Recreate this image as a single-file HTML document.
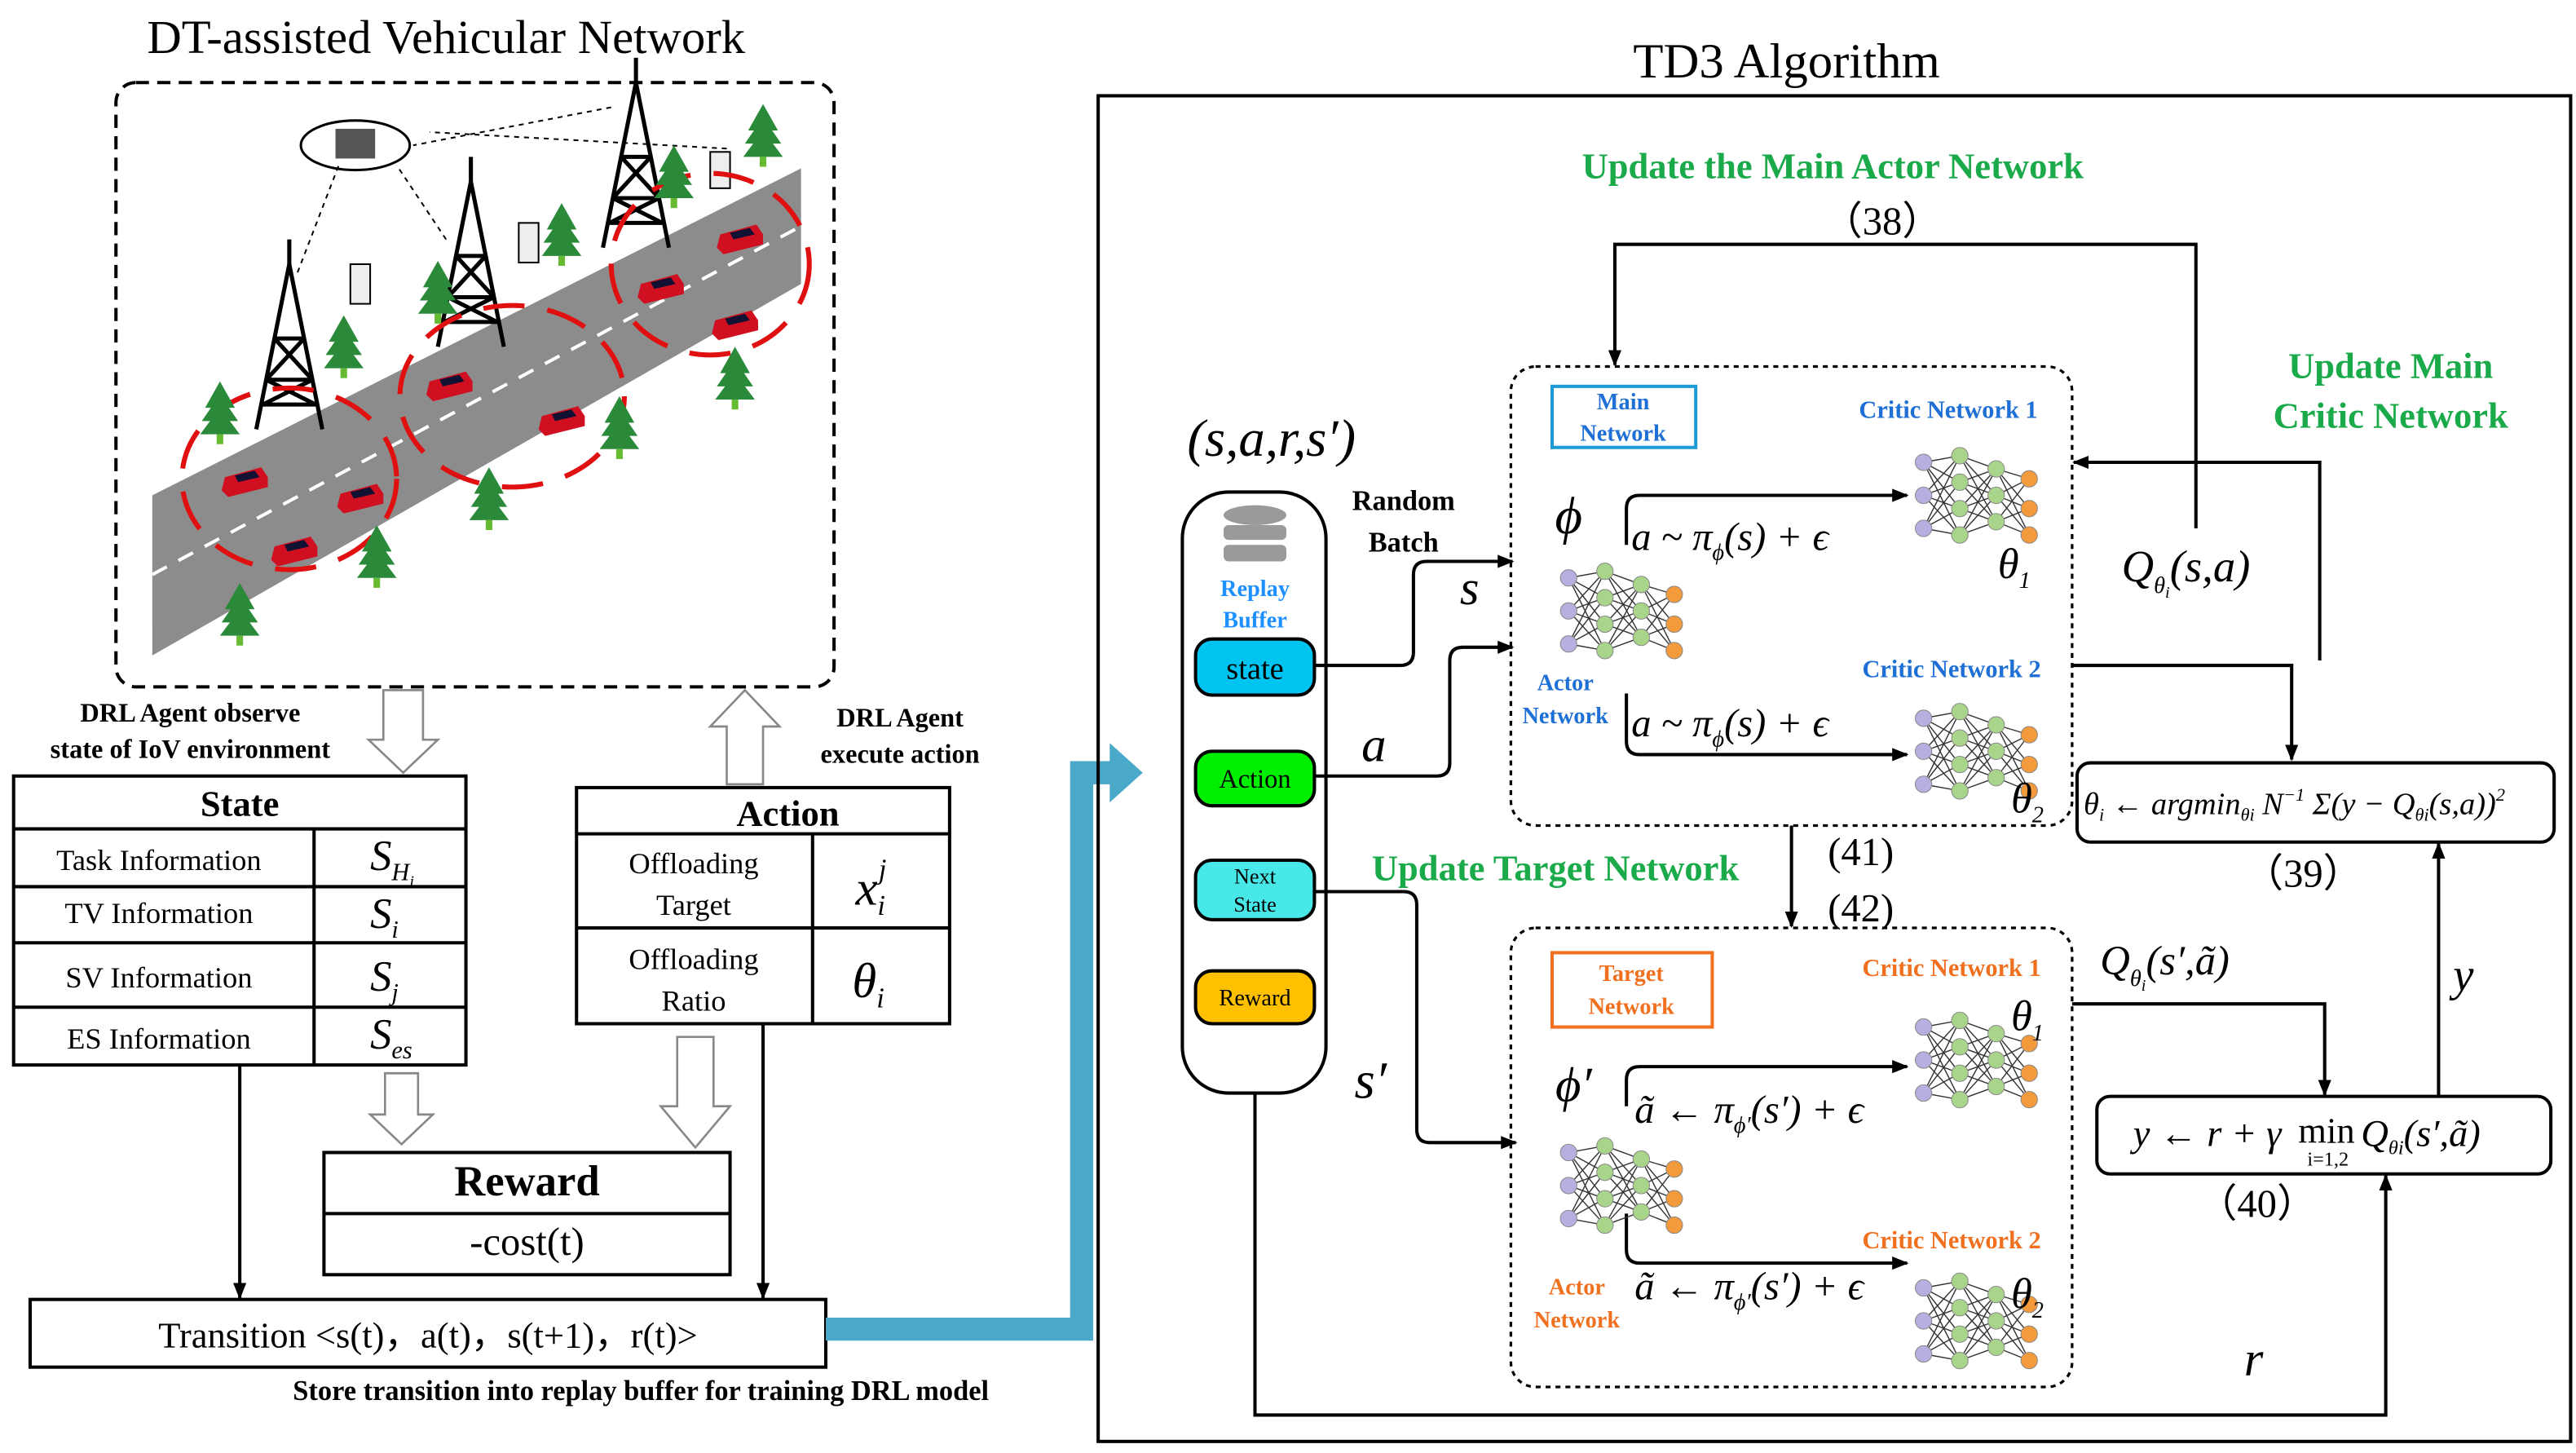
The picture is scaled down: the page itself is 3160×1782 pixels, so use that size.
<!DOCTYPE html>
<html><head><meta charset="utf-8"><style>
html,body{margin:0;padding:0;background:#fff}
svg{display:block}
text{font-family:"Liberation Serif",serif}
.b{font-weight:bold}
.i{font-style:italic}
</style></head><body>
<svg width="3160" height="1782" viewBox="0 0 1560 880" xmlns="http://www.w3.org/2000/svg">
<defs>
<marker id="ar" markerWidth="10" markerHeight="10" refX="9" refY="5" orient="auto" markerUnits="userSpaceOnUse"><path d="M0,1 L10,5 L0,9 Z" fill="#000"/></marker>
<g id="nn">
 <g stroke="#333" stroke-width="0.7">
  <path d="M0,0 L22,-8 M0,0 L22,8 M0,0 L22,24 M0,0 L22,-24 M0,20 L22,-24 M0,20 L22,-8 M0,20 L22,8 M0,20 L22,24 M0,-20 L22,-24 M0,-20 L22,-8 M0,-20 L22,8 M0,-20 L22,24"/>
  <path d="M22,-24 L44,-16 M22,-24 L44,0 M22,-24 L44,16 M22,-8 L44,-16 M22,-8 L44,0 M22,-8 L44,16 M22,8 L44,-16 M22,8 L44,0 M22,8 L44,16 M22,24 L44,-16 M22,24 L44,0 M22,24 L44,16"/>
  <path d="M44,-16 L64,-10 M44,-16 L64,8 M44,-16 L64,24 M44,0 L64,-10 M44,0 L64,8 M44,0 L64,24 M44,16 L64,-10 M44,16 L64,8 M44,16 L64,24"/>
 </g>
 <g fill="#b8aee0" stroke="#888" stroke-width="0.5"><circle cx="0" cy="-20" r="5"/><circle cx="0" cy="0" r="5"/><circle cx="0" cy="20" r="5"/></g>
 <g fill="#a9d58a" stroke="#888" stroke-width="0.5"><circle cx="22" cy="-24" r="5"/><circle cx="22" cy="-8" r="5"/><circle cx="22" cy="8" r="5"/><circle cx="22" cy="24" r="5"/><circle cx="44" cy="-16" r="5"/><circle cx="44" cy="0" r="5"/><circle cx="44" cy="16" r="5"/></g>
 <g fill="#f39a3c" stroke="#888" stroke-width="0.5"><circle cx="64" cy="-10" r="5"/><circle cx="64" cy="8" r="5"/><circle cx="64" cy="24" r="5"/></g>
</g>
<g id="tree"><path d="M0,-22 L-9,-6 L9,-6 Z M0,-14 L-11,2 L11,2 Z M0,-6 L-12,10 L12,10 Z" fill="#2a8a3a"/><rect x="-2" y="10" width="4" height="6" fill="#6b3"/></g>
<g id="car"><path d="M-14,4 L-12,-4 L10,-10 L14,-4 L14,2 L-10,8 Z" fill="#d01020"/><path d="M-6,-5 L6,-8 L9,-4 L-4,-1 Z" fill="#113"/></g>
<g id="tower" stroke="#000" stroke-width="2.5" fill="none"><path d="M0,-70 L-20,30 M0,-70 L20,30 M-14,0 L14,0 M-9,-25 L9,-25 M-16,15 L16,15 M-14,0 L9,-25 M14,0 L-9,-25 M-16,15 L14,0 M16,15 L-14,0"/><path d="M0,-70 L0,-85"/></g>
</defs>

<text x="270" y="32" font-size="29" text-anchor="middle">DT-assisted Vehicular Network</text>
<rect x="70" y="50" width="435" height="366" rx="12" fill="none" stroke="#000" stroke-width="2" stroke-dasharray="8,5"/>
<polygon points="92,300 485,102 485,172 92,397" fill="#8c8c8c"/>
<line x1="92" y1="348" x2="485" y2="137" stroke="#fff" stroke-width="2" stroke-dasharray="10,8"/>
<ellipse cx="215" cy="88" rx="33" ry="15" fill="#fff" stroke="#000" stroke-width="1.5"/>
<rect x="203" y="78" width="24" height="18" fill="#555"/>
<use href="#tower" x="175" y="230"/><use href="#tower" x="285" y="180"/><use href="#tower" x="385" y="120"/>
<rect x="212" y="160" width="12" height="24" fill="#eee" stroke="#000"/>
<rect x="314" y="135" width="12" height="24" fill="#eee" stroke="#000"/>
<rect x="430" y="92" width="12" height="22" fill="#eee" stroke="#000"/>
<g stroke="#000" stroke-width="1" stroke-dasharray="3,3" fill="none"><path d="M180,165 L205,100 M270,145 L240,100 M370,65 L250,88 M440,90 L260,80"/></g>
<g fill="none" stroke="#e01010" stroke-width="3" stroke-dasharray="25,14"><ellipse cx="175" cy="290" rx="65" ry="55"/><ellipse cx="310" cy="240" rx="68" ry="55"/><ellipse cx="430" cy="160" rx="60" ry="55"/></g>
<use href="#car" x="148" y="293"/><use href="#car" x="218" y="303"/><use href="#car" x="178" y="335"/><use href="#car" x="272" y="235"/><use href="#car" x="340" y="256"/><use href="#car" x="400" y="176"/><use href="#car" x="448" y="146"/><use href="#car" x="445" y="198"/>
<use href="#tree" x="133" y="253"/><use href="#tree" x="208" y="213"/><use href="#tree" x="265" y="180"/><use href="#tree" x="340" y="145"/><use href="#tree" x="408" y="110"/><use href="#tree" x="462" y="85"/><use href="#tree" x="145" y="375"/><use href="#tree" x="228" y="340"/><use href="#tree" x="296" y="305"/><use href="#tree" x="375" y="262"/><use href="#tree" x="445" y="232"/>

<path d="M232,418 L256,418 L256,448 L265,448 L244,468 L223,448 L232,448 Z" fill="#fff" stroke="#888" stroke-width="1.3"/>
<path d="M440,475 L462,475 L462,440 L472,440 L451,418 L430,440 L440,440 Z" fill="#fff" stroke="#888" stroke-width="1.3"/>
<path d="M233,650 L253,650 L253,675 L262,675 L243,693 L224,675 L233,675 Z" fill="#fff" stroke="#888" stroke-width="1.3"/>
<path d="M410,628 L432,628 L432,670 L442,670 L421,695 L400,670 L410,670 Z" fill="#fff" stroke="#888" stroke-width="1.3"/>
<text x="115" y="437" font-size="16" class="b" text-anchor="middle">DRL Agent observe</text>
<text x="115" y="459" font-size="16" class="b" text-anchor="middle">state of IoV environment</text>
<text x="545" y="440" font-size="16" class="b" text-anchor="middle">DRL Agent</text>
<text x="545" y="462" font-size="16" class="b" text-anchor="middle">execute action</text>

<g fill="none" stroke="#000" stroke-width="2">
<rect x="8" y="470" width="274" height="175"/><line x1="8" y1="502" x2="282" y2="502"/><line x1="8" y1="537" x2="282" y2="537"/><line x1="8" y1="571" x2="282" y2="571"/><line x1="8" y1="610" x2="282" y2="610"/><line x1="190" y1="502" x2="190" y2="645"/>
<rect x="349" y="477" width="226" height="143"/><line x1="349" y1="505" x2="575" y2="505"/><line x1="349" y1="562" x2="575" y2="562"/><line x1="492" y1="505" x2="492" y2="620"/>
<rect x="196" y="698" width="246" height="74"/><line x1="196" y1="735" x2="442" y2="735"/>
<rect x="18" y="787" width="482" height="41"/>
</g>
<text x="145" y="494" font-size="22" class="b" text-anchor="middle">State</text>
<text x="96" y="527" font-size="18" text-anchor="middle">Task Information</text>
<text x="96" y="559" font-size="18" text-anchor="middle">TV Information</text>
<text x="96" y="598" font-size="18" text-anchor="middle">SV Information</text>
<text x="96" y="635" font-size="18" text-anchor="middle">ES Information</text>
<text x="224" y="527" font-size="26" class="i">S<tspan font-size="15" dy="6">H</tspan><tspan font-size="10" dy="4">i</tspan></text>
<text x="224" y="562" font-size="26" class="i">S<tspan font-size="15" dy="6">i</tspan></text>
<text x="224" y="600" font-size="26" class="i">S<tspan font-size="15" dy="6">j</tspan></text>
<text x="224" y="635" font-size="26" class="i">S<tspan font-size="15" dy="6">es</tspan></text>
<text x="477" y="500" font-size="22" class="b" text-anchor="middle">Action</text>
<text x="420" y="529" font-size="18" text-anchor="middle">Offloading</text>
<text x="420" y="554" font-size="18" text-anchor="middle">Target</text>
<text x="420" y="587" font-size="18" text-anchor="middle">Offloading</text>
<text x="420" y="612" font-size="18" text-anchor="middle">Ratio</text>
<text x="518" y="548" font-size="30" class="i">x<tspan font-size="17" dy="6">i</tspan><tspan font-size="17" dx="-4" dy="-22">j</tspan></text>
<text x="516" y="604" font-size="30" class="i">θ<tspan font-size="17" dy="6">i</tspan></text>
<text x="319" y="724" font-size="26" class="b" text-anchor="middle">Reward</text>
<text x="319" y="760" font-size="24" text-anchor="middle">-cost(t)</text>
<text x="259" y="816" font-size="22" text-anchor="middle">Transition &lt;s(t)，a(t)，s(t+1)，r(t)&gt;</text>
<text x="388" y="848" font-size="17" class="b" text-anchor="middle">Store transition into replay buffer for training DRL model</text>
<g stroke="#000" stroke-width="2" fill="none" marker-end="url(#ar)"><line x1="145" y1="645" x2="145" y2="786"/><line x1="462" y1="620" x2="462" y2="786"/></g>
<path d="M500,805 L655,805 L655,468 L675,468" fill="none" stroke="#4aa8c8" stroke-width="14"/>
<path d="M672,450 L692,468 L672,486 Z" fill="#4aa8c8"/>

<text x="1082" y="47" font-size="30" text-anchor="middle">TD3 Algorithm</text>
<rect x="665" y="58" width="892" height="815" fill="none" stroke="#000" stroke-width="2"/>
<text x="1110" y="108" font-size="22" class="b" fill="#1aaa4a" text-anchor="middle">Update the Main Actor Network</text>
<text x="1140" y="142" font-size="24" text-anchor="middle">（38）</text>
<text x="1448" y="229" font-size="22" class="b" fill="#1aaa4a" text-anchor="middle">Update Main</text>
<text x="1448" y="259" font-size="22" class="b" fill="#1aaa4a" text-anchor="middle">Critic Network</text>
<text x="942" y="533" font-size="22" class="b" fill="#1aaa4a" text-anchor="middle">Update Target Network</text>

<text x="770" y="276" font-size="32" class="i" text-anchor="middle">(s,a,r,s′)</text>
<rect x="716" y="298" width="87" height="364" rx="28" fill="none" stroke="#000" stroke-width="2"/>
<g fill="#9a9a9a"><ellipse cx="760" cy="312" rx="19" ry="6"/><rect x="741" y="318" width="38" height="9" rx="3"/><rect x="741" y="330" width="38" height="10" rx="3"/></g>
<text x="760" y="361" font-size="14" class="b" fill="#1e90ff" text-anchor="middle">Replay</text>
<text x="760" y="380" font-size="14" class="b" fill="#1e90ff" text-anchor="middle">Buffer</text>
<rect x="724" y="387" width="72" height="34" rx="10" fill="#00c4f0" stroke="#000" stroke-width="2"/>
<text x="760" y="411" font-size="19" text-anchor="middle">state</text>
<rect x="724" y="455" width="72" height="33" rx="10" fill="#00ee00" stroke="#000" stroke-width="2"/>
<text x="760" y="477" font-size="16" text-anchor="middle">Action</text>
<rect x="724" y="521" width="72" height="36" rx="10" fill="#48e8e8" stroke="#000" stroke-width="2"/>
<text x="760" y="535" font-size="13" text-anchor="middle">Next</text>
<text x="760" y="552" font-size="13" text-anchor="middle">State</text>
<rect x="724" y="588" width="72" height="32" rx="10" fill="#ffc000" stroke="#000" stroke-width="2"/>
<text x="760" y="609" font-size="14" text-anchor="middle">Reward</text>
<text x="850" y="309" font-size="17" class="b" text-anchor="middle">Random</text>
<text x="850" y="334" font-size="17" class="b" text-anchor="middle">Batch</text>
<g stroke="#000" stroke-width="2" fill="none" marker-end="url(#ar)">
<path d="M796,403 L848,403 Q856,403 856,395 L856,348 Q856,340 864,340 L916,340"/>
<path d="M796,470 L870,470 Q878,470 878,462 L878,400 Q878,392 886,392 L916,392"/>
<path d="M796,540 L850,540 Q858,540 858,548 L858,684 Q858,692 866,692 L918,692"/>
<path d="M985,330 L985,308 Q985,300 993,300 L1155,300"/>
<path d="M985,420 L985,449 Q985,457 993,457 L1155,457"/>
<path d="M985,670 L985,654 Q985,646 993,646 L1155,646"/>
<path d="M985,735 L985,757 Q985,765 993,765 L1155,765"/>
<path d="M1330,320 L1330,148 L978,148 L978,221"/>
<path d="M1405,400 L1405,280 L1256,280"/>
<path d="M1255,403 L1388,403 L1388,460"/>
<path d="M1255,608 L1408,608 L1408,663"/>
<path d="M1477,664 L1477,511"/>
<path d="M760,662 L760,857 L1445,857 L1445,712"/>
<path d="M1085,500 L1085,561"/>
</g>
<text x="890" y="366" font-size="30" class="i" text-anchor="middle">s</text>
<text x="832" y="461" font-size="30" class="i" text-anchor="middle">a</text>
<text x="830" y="665" font-size="32" class="i" text-anchor="middle">s′</text>
<text x="1127" y="524" font-size="24" text-anchor="middle">(41)</text>
<text x="1127" y="558" font-size="24" text-anchor="middle">(42)</text>

<rect x="915" y="222" width="340" height="278" rx="15" fill="none" stroke="#000" stroke-width="1.6" stroke-dasharray="3,3"/>
<rect x="940" y="234" width="87" height="37" fill="none" stroke="#1e9ad6" stroke-width="2"/>
<text x="983" y="248" font-size="14" class="b" fill="#1e6fd6" text-anchor="middle">Main</text>
<text x="983" y="267" font-size="14" class="b" fill="#1e6fd6" text-anchor="middle">Network</text>
<text x="1180" y="253" font-size="15" class="b" fill="#1e6fd6" text-anchor="middle">Critic Network 1</text>
<text x="1182" y="410" font-size="15" class="b" fill="#1e6fd6" text-anchor="middle">Critic Network 2</text>
<text x="950" y="323" font-size="32" class="i" text-anchor="middle">ϕ</text>
<use href="#nn" x="950" y="370"/>
<text x="948" y="418" font-size="14" class="b" fill="#1e6fd6" text-anchor="middle">Actor</text>
<text x="948" y="438" font-size="14" class="b" fill="#1e6fd6" text-anchor="middle">Network</text>
<text x="988" y="333" font-size="24" class="i">a ~ π<tspan font-size="14" dy="6">ϕ</tspan><tspan dy="-6">(s) + ϵ</tspan></text>
<text x="988" y="446" font-size="24" class="i">a ~ π<tspan font-size="14" dy="6">ϕ</tspan><tspan dy="-6">(s) + ϵ</tspan></text>
<use href="#nn" x="1165" y="300"/><use href="#nn" x="1165" y="455"/>
<text x="1210" y="350" font-size="26" class="i">θ<tspan font-size="14" dy="6">1</tspan></text>
<text x="1218" y="492" font-size="26" class="i">θ<tspan font-size="14" dy="6">2</tspan></text>
<text x="1285" y="352" font-size="27" class="i">Q<tspan font-size="14" dy="7">θ</tspan><tspan font-size="10" dy="3">i</tspan><tspan dy="-10">(s,a)</tspan></text>

<rect x="915" y="562" width="340" height="278" rx="15" fill="none" stroke="#000" stroke-width="1.6" stroke-dasharray="3,3"/>
<rect x="940" y="577" width="97" height="45" fill="none" stroke="#f07020" stroke-width="2"/>
<text x="988" y="594" font-size="14" class="b" fill="#f07020" text-anchor="middle">Target</text>
<text x="988" y="614" font-size="14" class="b" fill="#f07020" text-anchor="middle">Network</text>
<text x="1182" y="591" font-size="15" class="b" fill="#f07020" text-anchor="middle">Critic Network 1</text>
<text x="1182" y="756" font-size="15" class="b" fill="#f07020" text-anchor="middle">Critic Network 2</text>
<text x="953" y="667" font-size="30" class="i" text-anchor="middle">ϕ′</text>
<use href="#nn" x="950" y="718"/>
<text x="955" y="784" font-size="14" class="b" fill="#f07020" text-anchor="middle">Actor</text>
<text x="955" y="804" font-size="14" class="b" fill="#f07020" text-anchor="middle">Network</text>
<text x="990" y="680" font-size="24" class="i">ã ← π<tspan font-size="14" dy="6">ϕ′</tspan><tspan dy="-6">(s′) + ϵ</tspan></text>
<text x="990" y="787" font-size="24" class="i">ã ← π<tspan font-size="14" dy="6">ϕ′</tspan><tspan dy="-6">(s′) + ϵ</tspan></text>
<use href="#nn" x="1165" y="642"/><use href="#nn" x="1165" y="800"/>
<text x="1218" y="624" font-size="26" class="i">θ<tspan font-size="14" dy="6">1</tspan></text>
<text x="1218" y="792" font-size="26" class="i">θ<tspan font-size="14" dy="6">2</tspan></text>
<text x="1272" y="590" font-size="25" class="i">Q<tspan font-size="14" dy="7">θ</tspan><tspan font-size="10" dy="3">i</tspan><tspan dy="-10">(s′,ã)</tspan></text>

<rect x="1258" y="462" width="289" height="48" rx="8" fill="none" stroke="#000" stroke-width="2"/>
<text x="1262" y="493" font-size="19" class="i">θ<tspan font-size="11" dy="4">i</tspan><tspan dy="-4"> ← argmin</tspan><tspan font-size="11" dy="4">θi</tspan><tspan dy="-4"> N</tspan><tspan font-size="11" dy="-8">−1</tspan><tspan dy="8"> Σ(y − Q</tspan><tspan font-size="11" dy="4">θi</tspan><tspan dy="-4">(s,a))</tspan><tspan font-size="11" dy="-8">2</tspan></text>
<text x="1395" y="537" font-size="24" text-anchor="middle">（39）</text>
<text x="1492" y="600" font-size="28" class="i" text-anchor="middle">y</text>
<rect x="1270" y="664" width="275" height="47" rx="8" fill="none" stroke="#000" stroke-width="2"/>
<text x="1292" y="694" font-size="23" class="i">y ← r + γ</text>
<text x="1392" y="692" font-size="22">min</text>
<text x="1410" y="706" font-size="12" text-anchor="middle">i=1,2</text>
<text x="1430" y="694" font-size="23" class="i">Q<tspan font-size="12" dy="5">θi</tspan><tspan dy="-5">(s′,ã)</tspan></text>
<text x="1367" y="737" font-size="24" text-anchor="middle">（40）</text>
<text x="1365" y="833" font-size="30" class="i" text-anchor="middle">r</text>
</svg>
</body></html>
